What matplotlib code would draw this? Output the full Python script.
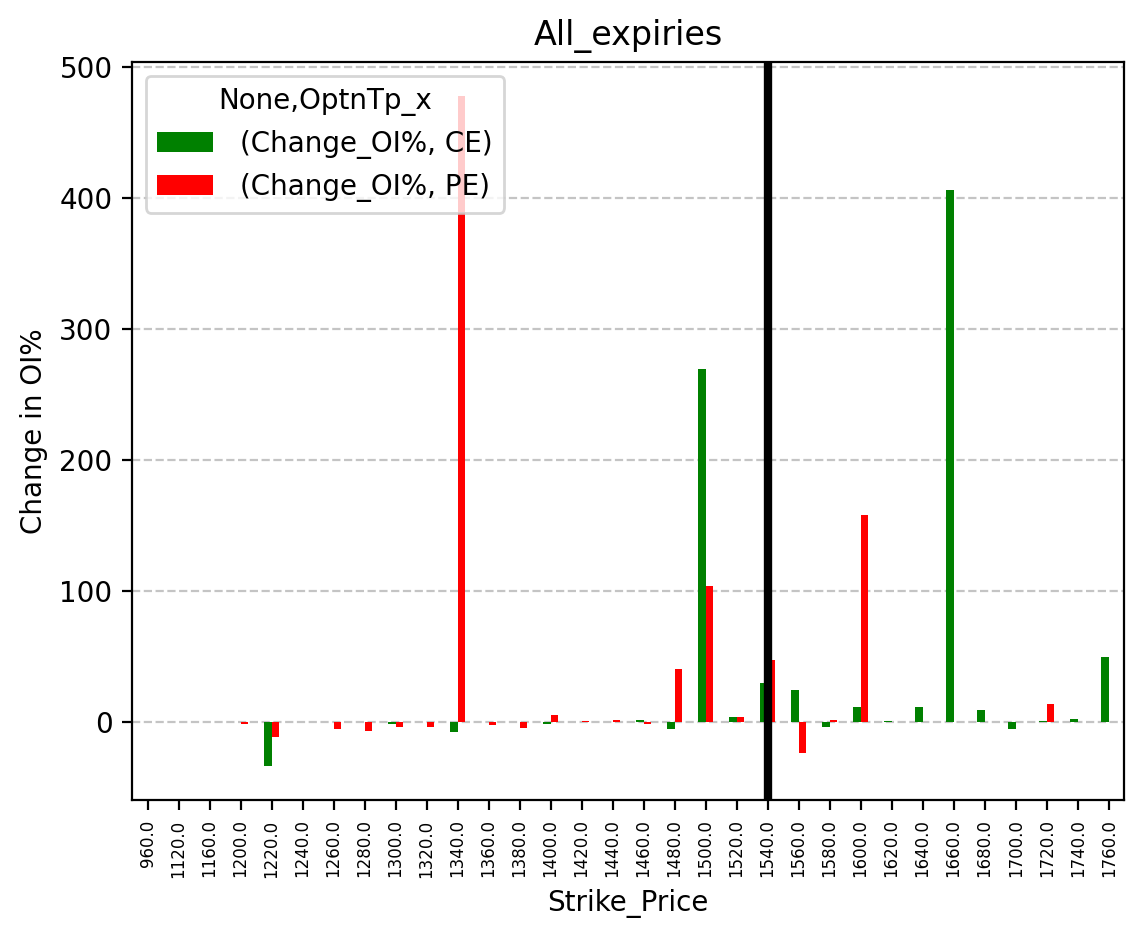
import numpy as np
import pandas as pd
import matplotlib
matplotlib.use('Agg')
import matplotlib.pyplot as plt

strikes = [960.0, 1120.0, 1160.0, 1200.0, 1220.0, 1240.0, 1260.0, 1280.0, 1300.0, 1320.0,
           1340.0, 1360.0, 1380.0, 1400.0, 1420.0, 1440.0, 1460.0, 1480.0, 1500.0, 1520.0,
           1540.0, 1560.0, 1580.0, 1600.0, 1620.0, 1640.0, 1660.0, 1680.0, 1700.0, 1720.0,
           1740.0, 1760.0]
nan = np.nan
ce_change = [nan, nan, nan, nan, -34.0, nan, nan, nan, -1.8, nan,
             -7.9, nan, nan, -1.8, 0.3, nan, 1.8, -5.6, 269.0, 4.0,
             30.0, 24.7, -3.6, 11.7, 1.0, 11.7, 406.0, 9.4, -5.1, 1.0,
             2.5, 49.5]
pe_change = [nan, nan, nan, -1.8, -11.7, nan, -5.6, -7.2, -4.0, -4.0,
             478.0, -2.5, -4.8, 5.6, 0.8, 1.8, -1.8, 40.7, 104.0, 4.0,
             47.6, -23.4, 1.8, 158.0, nan, nan, nan, nan, nan, 14.0,
             nan, nan]
spot_idx = 20  # 1540.0

df = pd.DataFrame({'(Change_OI%, CE)': ce_change, '(Change_OI%, PE)': pe_change},
                  index=pd.Index(strikes, name='Strike_Price'))

fig = plt.figure(figsize=(1143 / 200, 939 / 200), dpi=200)
ax = fig.add_axes([0.1155, 0.148, 0.868, 0.786])
df.plot.bar(ax=ax, color=['green', 'red'], rot=90)
ax.axvline(spot_idx, color='black', linewidth=3)
ax.grid(axis='y', linestyle='--', color='#c4c4c4')
ax.set_axisbelow(True)
ax.tick_params(axis='x', labelsize=6)
ax.set_title('All_expiries', fontsize=12)
ax.set_ylabel('Change in OI%')
ax.set_xlabel('Strike_Price')
ax.legend(title='None,OptnTp_x', loc='upper left', handletextpad=1.0)
fig.savefig('out.png', dpi=200)
